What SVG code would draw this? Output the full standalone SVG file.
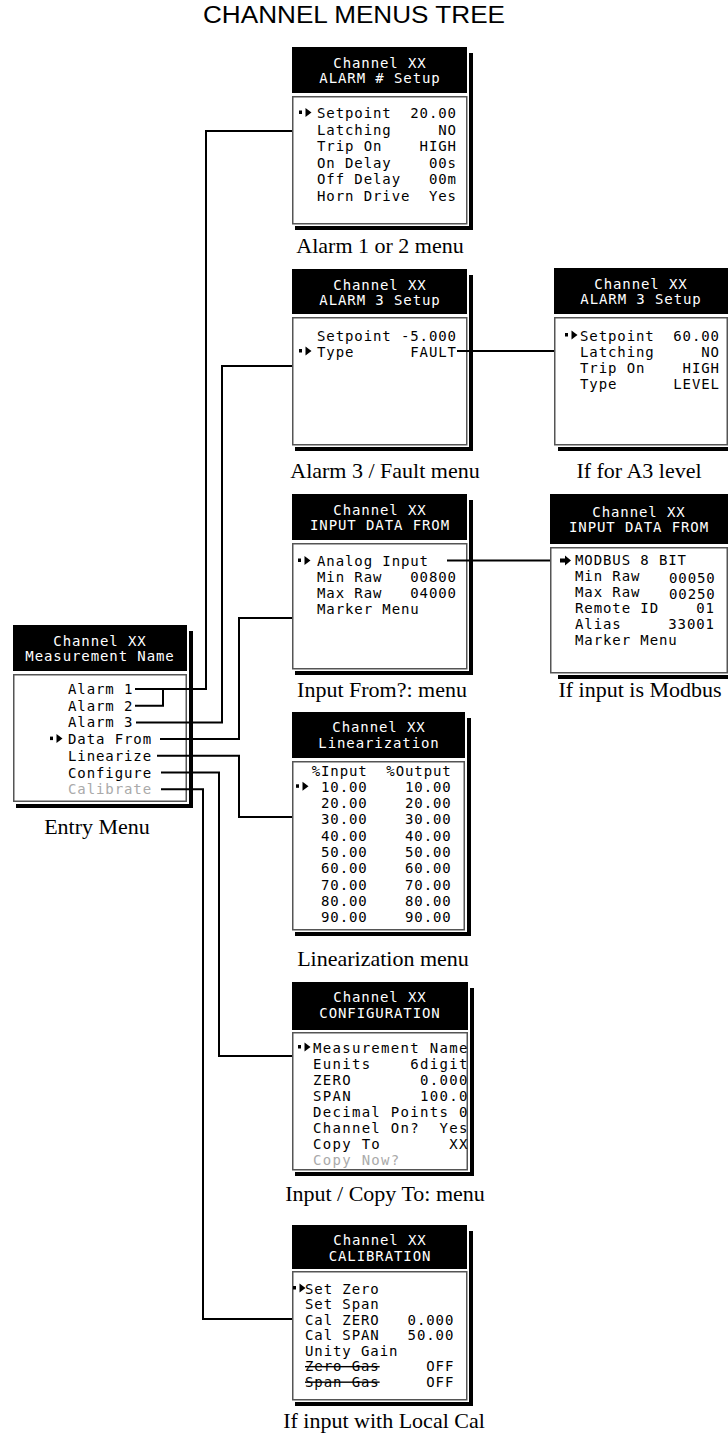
<svg xmlns="http://www.w3.org/2000/svg" width="728" height="1435" viewBox="0 0 728 1435">
<defs>
<style>
.hdr{fill:#000}
.body{fill:#fff;stroke:#555;stroke-width:1.5}
.sh{fill:#000}
.m{font-family:"DejaVu Sans Mono","Liberation Mono",monospace;font-size:14px;letter-spacing:0.9px;fill:#000}
.m2{font-family:"DejaVu Sans Mono","Liberation Mono",monospace;font-size:14px;letter-spacing:1.3px;fill:#000}
.mh{font-family:"DejaVu Sans Mono","Liberation Mono",monospace;font-size:14px;letter-spacing:0.9px;fill:#fff;text-anchor:middle}
.gray{fill:#aaa}
.lbl{font-family:"Liberation Serif","Times New Roman",serif;font-size:22px;fill:#000;text-anchor:middle}
.title{font-family:"Liberation Sans",Arial,sans-serif;font-size:23px;fill:#000}
.conn{fill:none;stroke:#000;stroke-width:2}
.strike{text-decoration:line-through}
</style>
<g id="ptr"><rect x="0" y="-7.5" width="3" height="3.5"/><polygon points="6.5,-10 12.5,-5.5 6.5,-1"/></g>
</defs>
<rect x="0" y="0" width="728" height="1435" fill="#fff"/>
<text class="title" x="203" y="23" textLength="302" lengthAdjust="spacingAndGlyphs">CHANNEL MENUS TREE</text>

<g id="alarm12">
<rect class="sh" x="469" y="53" width="4" height="177"/>
<rect class="sh" x="295" y="226" width="178" height="4"/>
<rect class="hdr" x="292" y="47" width="175" height="46"/>
<rect class="body" x="292.75" y="96.75" width="174" height="127"/>
<text class="mh" x="380" y="67.5">Channel XX</text>
<text class="mh" x="380" y="83">ALARM # Setup</text>
<use href="#ptr" x="299" y="118"/>
<text class="m" x="317" y="118" xml:space="preserve">Setpoint  20.00</text>
<text class="m" x="317" y="134.5" xml:space="preserve">Latching     NO</text>
<text class="m" x="317" y="151" xml:space="preserve">Trip On    HIGH</text>
<text class="m" x="317" y="167.5" xml:space="preserve">On Delay    00s</text>
<text class="m" x="317" y="184" xml:space="preserve">Off Delay   00m</text>
<text class="m" x="317" y="200.5" xml:space="preserve">Horn Drive  Yes</text>
<text class="lbl" x="380" y="253">Alarm 1 or 2 menu</text>
</g>

<g id="alarm3">
<rect class="sh" x="469" y="275" width="4" height="176"/>
<rect class="sh" x="295" y="447" width="178" height="4"/>
<rect class="hdr" x="292" y="269" width="175" height="45"/>
<rect class="body" x="292.75" y="317.75" width="174" height="127"/>
<text class="mh" x="380" y="289.5">Channel XX</text>
<text class="mh" x="380" y="305">ALARM 3 Setup</text>
<text class="m" x="317" y="340.5" xml:space="preserve">Setpoint -5.000</text>
<use href="#ptr" x="299" y="356.5"/>
<text class="m" x="317" y="356.5" xml:space="preserve">Type      FAULT</text>
<text class="lbl" x="385" y="478">Alarm 3 / Fault menu</text>
</g>

<g id="alarm3level">
<rect class="sh" x="558" y="447" width="170" height="4"/>
<rect class="hdr" x="554" y="268" width="174" height="46"/>
<rect class="body" x="554.75" y="317.75" width="172.5" height="127"/>
<text class="mh" x="641" y="288.5">Channel XX</text>
<text class="mh" x="641" y="304">ALARM 3 Setup</text>
<use href="#ptr" x="565" y="340.5"/>
<text class="m" x="580" y="340.5" xml:space="preserve">Setpoint  60.00</text>
<text class="m" x="580" y="356.5" xml:space="preserve">Latching     NO</text>
<text class="m" x="580" y="372.5" xml:space="preserve">Trip On    HIGH</text>
<text class="m" x="580" y="388.5" xml:space="preserve">Type      LEVEL</text>
<text class="lbl" x="639" y="478">If for A3 level</text>
</g>

<g id="inputfrom">
<rect class="sh" x="469" y="500" width="4" height="175"/>
<rect class="sh" x="295" y="671" width="178" height="4"/>
<rect class="hdr" x="292" y="494" width="175" height="46"/>
<rect class="body" x="292.75" y="543.75" width="174" height="125"/>
<text class="mh" x="380" y="514.5">Channel XX</text>
<text class="mh" x="380" y="530">INPUT DATA FROM</text>
<use href="#ptr" x="298" y="566"/>
<text class="m" x="317" y="566" xml:space="preserve">Analog Input</text>
<text class="m" x="317" y="582" xml:space="preserve">Min Raw   00800</text>
<text class="m" x="317" y="598" xml:space="preserve">Max Raw   04000</text>
<text class="m" x="317" y="614" xml:space="preserve">Marker Menu</text>
<text class="lbl" x="382" y="697">Input From?: menu</text>
</g>

<g id="modbus">
<rect class="sh" x="558" y="675" width="170" height="4"/>
<rect class="hdr" x="550" y="494" width="178" height="50"/>
<rect class="body" x="550.75" y="547.75" width="176.5" height="125"/>
<text class="mh" x="639" y="516.5">Channel XX</text>
<text class="mh" x="639" y="532">INPUT DATA FROM</text>
<polygon points="560,558.5 565,558.5 565,555.5 571,560.5 565,565.5 565,562.5 560,562.5"/>
<text class="m" x="575" y="565" xml:space="preserve">MODBUS 8 BIT</text>
<text class="m" x="575" y="581">Min Raw</text>
<text class="m" x="669" y="583">00050</text>
<text class="m" x="575" y="597">Max Raw</text>
<text class="m" x="669" y="599">00250</text>
<text class="m" x="575" y="613" xml:space="preserve">Remote ID    01</text>
<text class="m" x="575" y="629" xml:space="preserve">Alias     33001</text>
<text class="m" x="575" y="645" xml:space="preserve">Marker Menu</text>
<text class="lbl" x="640" y="697">If input is Modbus</text>
</g>

<g id="entry">
<rect class="sh" x="189" y="631" width="4" height="177"/>
<rect class="sh" x="16" y="804" width="177" height="4"/>
<rect class="hdr" x="13" y="625" width="174" height="46"/>
<rect class="body" x="13.75" y="674.75" width="172.5" height="126.5"/>
<text class="mh" x="100" y="645.5">Channel XX</text>
<text class="mh" x="100" y="661">Measurement Name</text>
<text class="m" x="68" y="694">Alarm 1</text>
<text class="m" x="68" y="710.7">Alarm 2</text>
<text class="m" x="68" y="727.4">Alarm 3</text>
<use href="#ptr" x="50" y="744.1"/>
<text class="m" x="68" y="744.1">Data From</text>
<text class="m" x="68" y="760.8">Linearize</text>
<text class="m" x="68" y="777.5">Configure</text>
<text class="m gray" x="68" y="794.2">Calibrate</text>
<text class="lbl" x="97" y="834">Entry Menu</text>
</g>

<g id="linearization">
<rect class="sh" x="467" y="718" width="4" height="218"/>
<rect class="sh" x="295" y="932" width="176" height="4"/>
<rect class="hdr" x="292" y="712" width="173" height="46"/>
<rect class="body" x="292.75" y="761.75" width="171.5" height="168"/>
<text class="mh" x="379" y="732">Channel XX</text>
<text class="mh" x="379" y="747.5">Linearization</text>
<text class="m" x="311.7" y="775.5" xml:space="preserve">%Input  %Output</text>
<use href="#ptr" x="296" y="791.8"/>
<text class="m" x="311.7" y="791.8" xml:space="preserve"> 10.00    10.00</text>
<text class="m" x="311.7" y="808.1" xml:space="preserve"> 20.00    20.00</text>
<text class="m" x="311.7" y="824.4" xml:space="preserve"> 30.00    30.00</text>
<text class="m" x="311.7" y="840.7" xml:space="preserve"> 40.00    40.00</text>
<text class="m" x="311.7" y="857" xml:space="preserve"> 50.00    50.00</text>
<text class="m" x="311.7" y="873.3" xml:space="preserve"> 60.00    60.00</text>
<text class="m" x="311.7" y="889.6" xml:space="preserve"> 70.00    70.00</text>
<text class="m" x="311.7" y="905.9" xml:space="preserve"> 80.00    80.00</text>
<text class="m" x="311.7" y="922.2" xml:space="preserve"> 90.00    90.00</text>
<text class="lbl" x="383" y="966">Linearization menu</text>
</g>

<g id="configuration">
<rect class="sh" x="470" y="988" width="4" height="188"/>
<rect class="sh" x="295" y="1172" width="179" height="4"/>
<rect class="hdr" x="292" y="982" width="176" height="48"/>
<rect class="body" x="292.75" y="1032.75" width="174.5" height="137"/>
<text class="mh" x="380" y="1002">Channel XX</text>
<text class="mh" x="380" y="1018">CONFIGURATION</text>
<use href="#ptr" x="298" y="1052.5"/>
<text class="m2" x="313" y="1052.5" xml:space="preserve">Measurement Name</text>
<text class="m2" x="313" y="1068.5" xml:space="preserve">Eunits    6digit</text>
<text class="m2" x="313" y="1084.5" xml:space="preserve">ZERO       0.000</text>
<text class="m2" x="313" y="1100.5" xml:space="preserve">SPAN       100.0</text>
<text class="m2" x="313" y="1116.5" xml:space="preserve">Decimal Points 0</text>
<text class="m2" x="313" y="1132.5" xml:space="preserve">Channel On?  Yes</text>
<text class="m2" x="313" y="1148.5" xml:space="preserve">Copy To       XX</text>
<text class="m2 gray" x="313" y="1164.5" xml:space="preserve">Copy Now?</text>
<text class="lbl" x="385" y="1201">Input / Copy To: menu</text>
</g>

<g id="calibration">
<rect class="sh" x="469" y="1231" width="4" height="175"/>
<rect class="sh" x="295" y="1402" width="178" height="4"/>
<rect class="hdr" x="292" y="1225" width="175" height="44"/>
<rect class="body" x="292.75" y="1271.75" width="174" height="128"/>
<text class="mh" x="380" y="1245">Channel XX</text>
<text class="mh" x="380" y="1261">CALIBRATION</text>
<use href="#ptr" x="293" y="1293.5"/>
<text class="m" x="305" y="1293.5" xml:space="preserve">Set Zero</text>
<text class="m" x="305" y="1309" xml:space="preserve">Set Span</text>
<text class="m" x="305" y="1324.5" xml:space="preserve">Cal ZERO   0.000</text>
<text class="m" x="305" y="1340" xml:space="preserve">Cal SPAN   50.00</text>
<text class="m" x="305" y="1355.5" xml:space="preserve">Unity Gain</text>
<text class="m" x="305" y="1371" xml:space="preserve"><tspan class="strike">Zero Gas</tspan>     OFF</text>
<text class="m" x="305" y="1386.5" xml:space="preserve"><tspan class="strike">Span Gas</tspan>     OFF</text>
<text class="lbl" x="384" y="1428">If input with Local Cal</text>
</g>

<g id="connectors">
<path class="conn" d="M135 689 H206 V131 H292"/>
<path class="conn" d="M135 705.7 H163 V689"/>
<path class="conn" d="M136 722.4 H222 V366 H292"/>
<path class="conn" d="M160 739.1 H239 V618 H292"/>
<path class="conn" d="M157 755.8 H239 V817 H292"/>
<path class="conn" d="M161 772.5 H219 V1056 H292"/>
<path class="conn" d="M161 789.2 H203 V1319 H292"/>
<path class="conn" d="M457 351 H554"/>
<path class="conn" d="M447 560.5 H550"/>
</g>
</svg>
